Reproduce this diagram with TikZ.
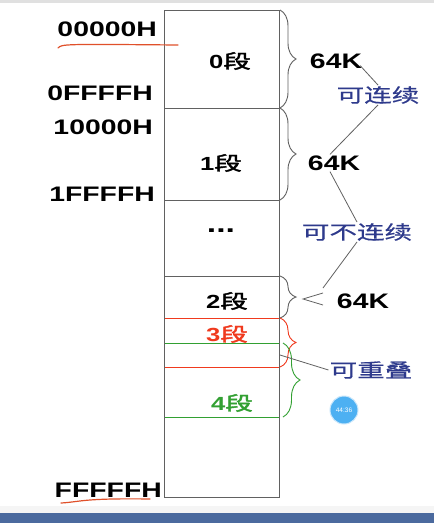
\documentclass[tikz,border=0pt]{standalone}
\usepackage{fontspec}
\usepackage{xcolor}
\usetikzlibrary{decorations.pathreplacing}
\setmainfont{Liberation Sans}
\newfontfamily\hexfont[FakeStretch=1.35]{Liberation Sans Bold}
\newfontfamily\cjkbold[FakeStretch=1.45,FakeBold=2]{Noto Sans CJK SC}
\newfontfamily\cjk[FakeStretch=1.45,FakeBold=0.6]{Noto Sans CJK SC}
\newcommand{\segname}[1]{{\hexfont\fontsize{19}{19}\selectfont #1}{\cjkbold\fontsize{19}{19}\selectfont 段}}

\begin{document}
\begin{tikzpicture}[x=1pt,y=-1pt]
\colorlet{BOX}{black!62}
\definecolor{NAVY}{HTML}{2E3A8C}
\definecolor{SEGR}{HTML}{F03A1E}
\definecolor{SEGG}{HTML}{32A032}
\definecolor{BAR}{HTML}{4B6A9E}
\definecolor{PEN}{HTML}{E0502A}
\definecolor{CLOCK}{HTML}{4DB0F2}
\tikzset{
	addr/.style={anchor=east,inner sep=0pt,font=\hexfont\fontsize{21}{21}\selectfont},
	size/.style={inner sep=1pt,font=\hexfont\fontsize{21}{21}\selectfont},
	seg/.style={inner sep=0pt},
	note/.style={inner sep=1pt,text=NAVY,font=\cjk\fontsize{19}{19}\selectfont},
	segbrace/.style={decorate,decoration={brace,amplitude=16pt},line width=0.9pt},
	link/.style={BOX,line width=0.8pt},
}
\useasboundingbox (0,0) rectangle (434,523);
\fill[white] (0,0) rectangle (434,523);
\fill[black!12] (0,0) rectangle (434,3);
\fill[black!4] (0,506) rectangle (434,513);
\fill[BAR] (0,513) rectangle (434,523);

% memory column
\draw[BOX,line width=1pt] (164,10) rectangle (279,497);
\foreach \y in {108,200,276,318}{
	\draw[BOX,line width=1pt] (164,\y) -- (279,\y);
}
\foreach \y/\c in {318.5/SEGR,367.5/SEGR,343.5/SEGG,417.5/SEGG}{
	\draw[\c,line width=1.2pt] (165,\y) -- (278.5,\y);
}

% addresses
\foreach \n/\t/\x/\y in {a0/00000H/157/29,a1/0FFFFH/153/93,a2/10000H/153/127,a3/1FFFFH/155/194,a4/FFFFFH/162/490}{
	\node[addr] (\n) at (\x,\y) {\t};
}
\draw[PEN,line width=1.2pt,line cap=round] (58,48) .. controls (62,44) .. (178,45);
\draw[PEN,line width=1.2pt,line cap=round] (61,503) .. controls (80,502) and (82,498) .. (150,499);

% segment names
\node[seg] (s0) at (230,61) {\segname{0}};
\node[seg] (s1) at (221,163) {\segname{1}};
\node[seg,font=\hexfont\fontsize{25}{25}\selectfont] (dots) at (221,231) {...};
\node[seg] (s2) at (227,301) {\segname{2}};
\node[seg,text=SEGR] (s3) at (227,334) {\segname{3}};
\node[seg,text=SEGG] (s4) at (232,403) {\segname{4}};

% braces
\draw[BOX,segbrace] (280,10) -- (280,108);
\draw[BOX,segbrace] (280,108) -- (280,200);
\draw[BOX,segbrace] (280,276) -- (280,318);
\draw[SEGR,segbrace] (280,318) -- (280,367);
\draw[SEGG,segbrace,decoration={amplitude=17pt}] (283,343) -- (283,417);

% sizes and notes
\node[size] (k0) at (336,61) {64K};
\node[size] (k1) at (334,163) {64K};
\node[size] (k2) at (363,301) {64K};
\node[note] (lian) at (378,95) {可连续};
\node[note] (bulian) at (357,232) {可不连续};
\node[note] (chong) at (371,370) {可重叠};

\coordinate (lt) at (303,299);
\coordinate (ltup) at (323,293);
\coordinate (ltdn) at (323,305);
\coordinate (ov) at (280,355);

\draw[link] (k0.south east) ++(-3,-4) -- (lian.north);
\draw[link] (lian.south) -- ([xshift=-4pt]k1.north);
\draw[link] ([xshift=-4pt]k1.south) -- (bulian.north);
\draw[link] (bulian.south) -- ([shift={(0,-5)}]ltup);
\draw[link] (ltup) -- (lt) -- (ltdn);
\draw[link] (ov) -- (chong.west);

% clock badge
\node[circle,fill=CLOCK,draw=CLOCK!30,line width=1pt,text=white,minimum size=28pt,inner sep=0pt,font=\fontsize{6.5}{6.5}\selectfont] (clock) at (344,410) {44:36};

\end{tikzpicture}
\end{document}
